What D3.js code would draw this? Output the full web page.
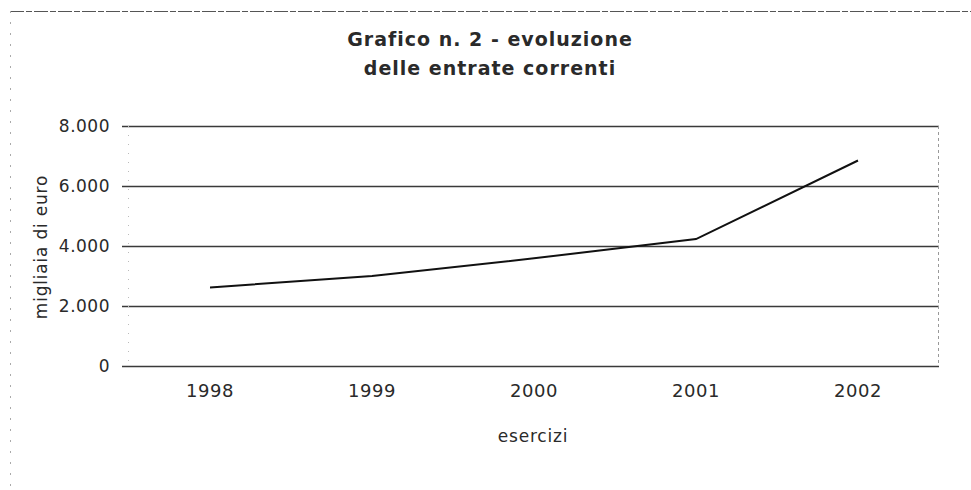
<!DOCTYPE html>
<html>
<head>
<meta charset="utf-8">
<script src="https://cdn.jsdelivr.net/npm/d3@7"></script>
<style>
  body { margin: 0; background: #fff; }
  text { font-family: "DejaVu Sans", Verdana, sans-serif; fill: #2a2a2a; }
</style>
</head>
<body>
<div id="chart"></div>
<script>
var years = ["1998", "1999", "2000", "2001", "2002"];
var entrate = [2620, 3000, 3590, 4230, 6850];
var yTicks = [0, 2000, 4000, 6000, 8000];
var titleLines = ["Grafico n. 2 - evoluzione", "delle entrate correnti"];

function init() {
    var w = 971;
    var h = 490;
    var margin = {top: 126, right: 32, bottom: 124, left: 129};

    var svg = d3.select("#chart")
        .append("svg")
        .attr("width", w)
        .attr("height", h);

    // outer frame (dashed, scanned look)
    svg.append("line")
        .attr("x1", 10).attr("x2", w).attr("y1", 11.5).attr("y2", 11.5)
        .attr("stroke", "#555").attr("stroke-dasharray", "14,2,6,2");
    svg.append("line")
        .attr("x1", 10.5).attr("x2", 10.5).attr("y1", 11).attr("y2", h)
        .attr("stroke", "#aaa").attr("stroke-dasharray", "2,9");

    var x = d3.scaleBand()
        .domain(years)
        .range([margin.left, w - margin.right]);

    var y = d3.scaleLinear()
        .domain([0, 8000])
        .range([h - margin.bottom, margin.top]);

    // gridlines + y axis
    var yAxis = d3.axisLeft(y)
        .tickValues(yTicks)
        .tickSize(-(w - margin.right - margin.left) - 7)
        .tickPadding(12)
        .tickFormat(function (d) { return d3.format(",")(d).replace(/,/g, "."); });

    svg.append("g")
        .attr("transform", "translate(" + (margin.left - 7) + ",0)")
        .call(yAxis)
        .call(function (g) {
            g.select(".domain").remove();
            g.selectAll(".tick line").attr("stroke", "#3a3a3a").attr("stroke-width", 1.3);
            g.selectAll(".tick text")
                .style("font-size", "17px")
                .style("letter-spacing", "0.5px")
                .attr("fill", "#2a2a2a");
        });

    // plot area edges
    svg.append("line")
        .attr("x1", w - margin.right - 0.5).attr("x2", w - margin.right - 0.5)
        .attr("y1", margin.top).attr("y2", h - margin.bottom)
        .attr("stroke", "#999").attr("stroke-dasharray", "3,3");
    svg.append("line")
        .attr("x1", margin.left - 0.5).attr("x2", margin.left - 0.5)
        .attr("y1", margin.top).attr("y2", h - margin.bottom)
        .attr("stroke", "#bbb").attr("stroke-dasharray", "1,8");

    // x axis labels
    var xAxis = d3.axisBottom(x).tickSize(0).tickPadding(18);
    svg.append("g")
        .attr("transform", "translate(0," + (h - margin.bottom) + ")")
        .call(xAxis)
        .call(function (g) {
            g.select(".domain").remove();
            g.selectAll(".tick text")
                .style("font-size", "18px")
                .style("letter-spacing", "0.5px")
                .attr("fill", "#2a2a2a");
        });

    // line
    var line = d3.line()
        .x(function (d, i) { return x(years[i]) + x.bandwidth() / 2; })
        .y(function (d) { return y(d); });

    svg.append("path")
        .datum(entrate)
        .attr("d", line)
        .attr("fill", "none")
        .attr("stroke", "#111")
        .attr("stroke-width", 2);

    // title
    svg.append("text")
        .attr("x", 490)
        .attr("y", 46)
        .attr("text-anchor", "middle")
        .style("font-size", "19px")
        .style("font-weight", "bold")
        .style("letter-spacing", "1px")
        .selectAll("tspan")
        .data(titleLines)
        .enter()
        .append("tspan")
        .attr("x", 490)
        .attr("dy", function (d, i) { return i == 0 ? 0 : 29; })
        .text(function (d) { return d; });

    // axis titles
    svg.append("text")
        .attr("transform", "translate(47,247) rotate(-90)")
        .attr("text-anchor", "middle")
        .style("font-size", "17px")
        .style("letter-spacing", "0.8px")
        .text("migliaia di euro");

    svg.append("text")
        .attr("x", 533)
        .attr("y", 442)
        .attr("text-anchor", "middle")
        .style("font-size", "17px")
        .style("letter-spacing", "0.8px")
        .text("esercizi");
}

window.onload = init;
</script>
</body>
</html>
